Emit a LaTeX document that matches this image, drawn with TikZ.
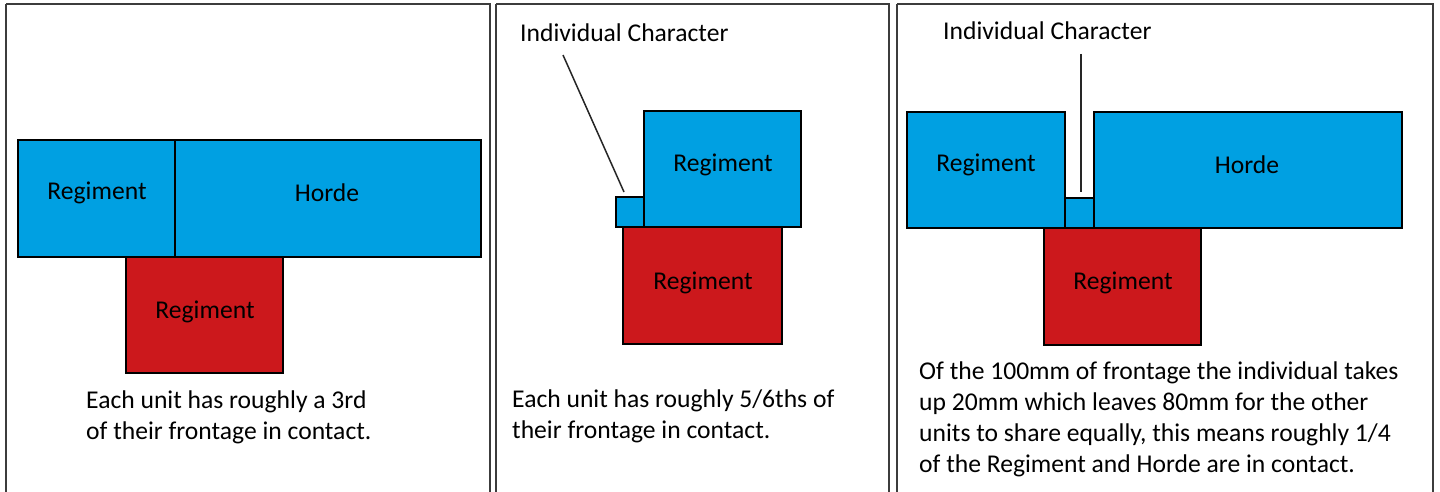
\documentclass[tikz,border=0pt]{standalone}
\usepackage{fontspec}
\setmainfont{Carlito}
\definecolor{unitblue}{RGB}{0,160,226}
\definecolor{unitred}{RGB}{204,24,28}
\definecolor{framegray}{RGB}{60,60,60}
\begin{document}
\begin{tikzpicture}[x=1pt,y=-1pt,
  every node/.style={font=\fontsize{25.6}{31}\selectfont, text=black},
  bluebox/.style={draw=black, line width=1.5pt, fill=unitblue, inner sep=0pt, outer sep=0pt},
  redbox/.style={draw=black, line width=1.5pt, fill=unitred, inner sep=0pt, outer sep=0pt},
  panel/.style={draw=framegray, line width=2.5pt},
  caption/.style={anchor=base west, align=left, inner sep=0pt},
  leader/.style={draw=black!85, line width=1.5pt}]
\useasboundingbox[fill=white] (0,0) rectangle (1440,492);
% panels
\draw[panel] (6,4) -- (6,500) (6,4) -- (490,4) -- (490,500);
\draw[panel] (496,4) -- (496,500) (496,4) -- (889,4) -- (889,500);
\draw[panel] (897,4) -- (897,500) (897,4) -- (1433,4) -- (1433,500);

% ---- panel 1
\node[bluebox, minimum width=157, minimum height=117] (r1) at (96.5,198.5) {};
\node[bluebox, minimum width=306, minimum height=117] (h1) at (328,198.5) {};
\node[redbox, minimum width=157, minimum height=116] (d1) at (204.5,315) {};
\node at (97,193) {Regiment};
\node at (327,193) {Horde};
\node at (205,312) {Regiment};
\node[caption] (c1) at (86,439) {Each unit has roughly a 3rd\\of their frontage in contact.};

% ---- panel 2
\node[redbox, minimum width=159, minimum height=117] (d2) at (702.5,285.5) {};
\node[bluebox, minimum width=157, minimum height=116] (r2) at (722.5,169) {};
\node[bluebox, minimum width=28, minimum height=30] (i2) at (630,212) {};
\node at (723,165) {Regiment};
\node at (703,283) {Regiment};
\node[caption] (t2) at (520,42) {Individual Character};
\coordinate (l2a) at (563,55);
\coordinate (l2b) at (624,192);
\draw[leader] (l2a) -- (l2b);
\node[caption] (c2) at (512,438) {Each unit has roughly 5/6ths of\\their frontage in contact.};

% ---- panel 3
\node[redbox, minimum width=157, minimum height=117] (d3) at (1122.5,286.5) {};
\node[bluebox, minimum width=158, minimum height=116] (r3) at (986,170) {};
\node[bluebox, minimum width=29, minimum height=30] (i3) at (1079.5,213) {};
\node[bluebox, minimum width=308, minimum height=116] (h3) at (1248,170) {};
\node at (986,165) {Regiment};
\node at (1247,165) {Horde};
\node at (1123,283) {Regiment};
\node[caption] (t3) at (943,40) {Individual Character};
\coordinate (l3a) at (1081,54);
\coordinate (l3b) at (1081,192);
\draw[leader] (l3a) -- (l3b);
\node[caption] (c3) at (919,472) {Of the 100mm of frontage the individual takes\\up 20mm which leaves 80mm for the other\\units to share equally, this means roughly 1/4\\of the Regiment and Horde are in contact.};
\end{tikzpicture}
\end{document}
